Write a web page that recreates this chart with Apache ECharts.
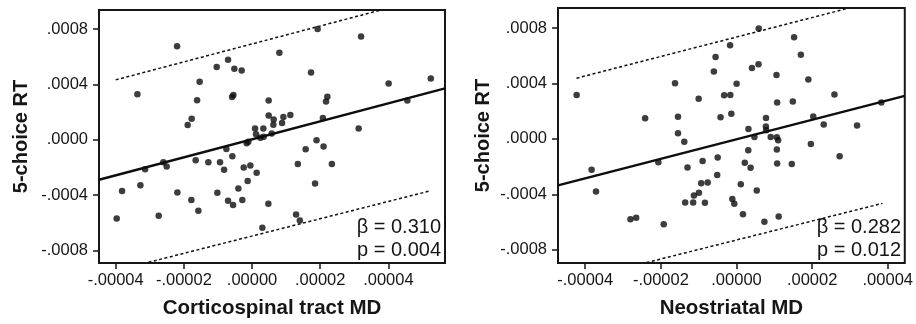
<!DOCTYPE html>
<html>
<head>
<meta charset="utf-8">
<script src="https://cdn.jsdelivr.net/npm/echarts@6/dist/echarts.min.js"></script>
<style>
  html, body { margin: 0; padding: 0; background: #fff; }
  #chart { width: 916px; height: 324px; }
</style>
</head>
<body>
<div id="chart"></div>
<script>
// tick values and their printed labels
const yTicks = [-0.0008, -0.0004, 0, 0.0004, 0.0008];
const yTickLabels = ['-.0008', '-.0004', '.0000', '.0004', '.0008'];
const xTicks = [-0.00004, -0.00002, 0, 0.00002, 0.00004];
const xTickLabels = ['-.00004', '-.00002', '.00000', '.00002', '.00004'];

// left panel: corticospinal tract MD vs 5-choice RT
const ctMD = [
  -2.20e-5, -3.364e-5, -0.704e-5, -1.038e-5, -0.519e-5, -0.305e-5, -1.537e-5, -1.613e-5, -0.587e-5, -0.548e-5,
  -1.772e-5, -1.889e-5, 0.487e-5, 0.487e-5, 0.634e-5, 0.625e-5, 0.880e-5, 0.918e-5, 1.123e-5, 0.088e-5,
  0.331e-5, 0.117e-5, 0.243e-5, 0.340e-5, 0.575e-5, -0.109e-5, -0.158e-5, -0.754e-5, -2.602e-5, -2.505e-5,
  -3.138e-5, -1.654e-5, -1.282e-5, -0.939e-5, -0.821e-5, -0.578e-5, -0.246e-5, -0.050e-5, 0.135e-5, -0.129e-5,
  -0.402e-5, -3.813e-5, -3.276e-5, -2.191e-5, -1.018e-5, -1.780e-5, -0.704e-5, -0.557e-5, -0.285e-5, 0.478e-5,
  -1.575e-5, -3.971e-5, -2.739e-5, 0.302e-5, 1.924e-5, 3.197e-5, 0.801e-5, 1.730e-5, 4.006e-5, 5.244e-5,
  2.209e-5, 2.170e-5, 4.555e-5, 2.077e-5, 3.127e-5, 1.892e-5, 1.572e-5, 2.097e-5, 1.343e-5, 2.341e-5,
  1.848e-5, 1.291e-5, 1.402e-5
];
const ctRT = [
  6.76e-4, 3.29e-4, 5.79e-4, 5.26e-4, 5.14e-4, 5.00e-4, 4.19e-4, 2.86e-4, 3.09e-4, 3.24e-4,
  1.52e-4, 1.07e-4, 2.83e-4, 1.76e-4, 1.47e-4, 1.09e-4, 1.21e-4, 1.64e-4, 1.79e-4, 0.81e-4,
  0.81e-4, 0.40e-4, 0.14e-4, 0.21e-4, 0.45e-4, -0.14e-4, -0.26e-4, -0.67e-4, -1.62e-4, -1.93e-4,
  -2.14e-4, -1.48e-4, -1.62e-4, -1.62e-4, -2.17e-4, -1.19e-4, -2.00e-4, -1.86e-4, -2.39e-4, -2.98e-4,
  -3.53e-4, -3.71e-4, -3.29e-4, -3.81e-4, -3.84e-4, -4.36e-4, -4.41e-4, -4.71e-4, -4.36e-4, -4.62e-4,
  -5.14e-4, -5.69e-4, -5.50e-4, -6.36e-4, 8.00e-4, 7.47e-4, 6.29e-4, 4.86e-4, 4.06e-4, 4.43e-4,
  3.11e-4, 2.76e-4, 2.83e-4, 1.58e-4, 0.81e-4, -0.04e-4, -0.69e-4, -0.49e-4, -1.76e-4, -1.76e-4,
  -3.16e-4, -5.41e-4, -5.84e-4
];
// fitted line and prediction band end points
const ctFit = [[-0.0000449, -0.000289], [0.0000566, 0.000371]];
const ctUpper = [[-0.0000400, 0.000433], [0.0000378, 0.000938]];
const ctLower = [[-0.0000304, -0.000886], [0.0000520, -0.000371]];
const ctStats = ['\u03b2 = 0.310', 'p = 0.004'];

// right panel: neostriatal MD vs 5-choice RT
const nsMD = [
  -4.227e-5, -1.626e-5, -1.001e-5, -2.416e-5, -1.547e-5, -1.547e-5, -1.381e-5, -0.422e-5, -0.327e-5, -0.163e-5,
  -0.137e-5, -0.598e-5, -0.553e-5, -0.169e-5, -3.831e-5, -3.715e-5, -2.066e-5, -1.296e-5, -0.896e-5, -0.498e-5,
  -0.511e-5, -0.933e-5, -0.762e-5, -1.125e-5, -0.993e-5, -1.357e-5, -1.146e-5, -0.835e-5, -0.111e-5, -0.058e-5,
  -2.804e-5, -2.653e-5, -1.924e-5, 0.588e-5, 1.523e-5, 1.702e-5, 0.408e-5, 0.582e-5, 1.057e-5, 1.900e-5,
  0.003e-5, 1.075e-5, 1.489e-5, 2.590e-5, 3.829e-5, 0.780e-5, 2.029e-5, 2.306e-5, 3.188e-5, 0.316e-5,
  0.777e-5, 0.785e-5, 0.474e-5, 0.904e-5, 1.067e-5, 1.101e-5, 1.067e-5, 0.311e-5, 1.966e-5, 2.727e-5,
  0.219e-5, 0.372e-5, 1.075e-5, 1.462e-5, 0.113e-5, 0.535e-5, 0.171e-5, 0.738e-5, 1.115e-5
];
const nsRT = [
  3.17e-4, 4.01e-4, 2.89e-4, 1.49e-4, 1.59e-4, 0.40e-4, -0.21e-4, 1.57e-4, 3.15e-4, 3.17e-4,
  1.82e-4, 4.86e-4, 5.91e-4, 6.76e-4, -2.23e-4, -3.80e-4, -1.69e-4, -2.06e-4, -1.60e-4, -1.35e-4,
  -2.61e-4, -3.20e-4, -3.15e-4, -4.09e-4, -3.89e-4, -4.58e-4, -4.58e-4, -4.60e-4, -4.34e-4, -4.68e-4,
  -5.79e-4, -5.69e-4, -6.15e-4, 7.97e-4, 7.33e-4, 6.06e-4, 5.12e-4, 5.39e-4, 4.60e-4, 4.29e-4,
  3.97e-4, 2.62e-4, 2.69e-4, 3.20e-4, 2.63e-4, 1.50e-4, 1.62e-4, 1.03e-4, 0.96e-4, 0.72e-4,
  0.89e-4, 0.63e-4, 0.13e-4, 0.13e-4, 0.11e-4, -0.09e-4, -0.76e-4, -0.82e-4, -0.36e-4, -1.25e-4,
  -1.72e-4, -2.08e-4, -1.78e-4, -1.81e-4, -3.27e-4, -3.72e-4, -5.44e-4, -5.97e-4, -5.60e-4
];
const nsFit = [[-0.0000472, -0.000335], [0.0000445, 0.000310]];
const nsUpper = [[-0.0000423, 0.000438], [0.0000298, 0.000944]];
const nsLower = [[-0.0000238, -0.000892], [0.0000386, -0.000465]];
const nsStats = ['\u03b2 = 0.282', 'p = 0.012'];

const FONT = 'Arial, "Liberation Sans", sans-serif';
const INK = '#161616';

function tickLabel(ticks, labels) {
  return (v) => {
    const i = ticks.findIndex((t) => Math.abs(t - v) < 1e-10);
    return i >= 0 ? labels[i] : '';
  };
}

function xAxisFor(gridIndex, min, max, name) {
  return {
    type: 'value', gridIndex, min, max, name,
    nameLocation: 'middle', nameGap: 35,
    nameTextStyle: { fontFamily: FONT, fontSize: 20.5, fontWeight: 'bold', color: INK },
    axisLine: { show: false, onZero: false },
    axisTick: { show: true, length: 6, customValues: xTicks, lineStyle: { color: INK, width: 1.5 } },
    axisLabel: {
      customValues: xTicks, formatter: tickLabel(xTicks, xTickLabels),
      fontFamily: FONT, fontSize: 16.5, color: INK, margin: 9,
    },
    splitLine: { show: false },
  };
}

function yAxisFor(gridIndex, min, max, gap) {
  return {
    type: 'value', gridIndex, min, max, name: '5-choice RT',
    nameLocation: 'middle', nameGap: gap, nameRotate: 90,
    nameTextStyle: { fontFamily: FONT, fontSize: 20, fontWeight: 'bold', color: INK },
    axisLine: { show: false, onZero: false },
    axisTick: { show: true, length: 6, customValues: yTicks, lineStyle: { color: INK, width: 1.5 } },
    axisLabel: {
      customValues: yTicks, formatter: tickLabel(yTicks, yTickLabels),
      fontFamily: FONT, fontSize: 16.5, color: INK, margin: 11,
    },
    splitLine: { show: false },
  };
}

function panelSeries(idx, xs, ys, fit, upper, lower) {
  return [
    {
      type: 'scatter', xAxisIndex: idx, yAxisIndex: idx,
      data: xs.map((x, i) => [x, ys[i]]),
      symbolSize: 6.5, itemStyle: { color: '#0d0d0d' },
    },
    {
      type: 'line', xAxisIndex: idx, yAxisIndex: idx, data: fit,
      showSymbol: false, lineStyle: { color: '#0d0d0d', width: 2.4 },
    },
    {
      type: 'line', xAxisIndex: idx, yAxisIndex: idx, data: upper,
      showSymbol: false, lineStyle: { color: '#111', width: 1.5, type: [3, 2.5] },
    },
    {
      type: 'line', xAxisIndex: idx, yAxisIndex: idx, data: lower,
      showSymbol: false, lineStyle: { color: '#111', width: 1.5, type: [3, 2.5] },
    },
  ];
}

function statText(lines, right) {
  return lines.map((t, i) => ({
    type: 'text',
    style: {
      text: t, x: right, y: 227.5 + i * 22.5,
      textAlign: 'right', textVerticalAlign: 'middle',
      font: '20px ' + FONT, fill: INK,
    },
  }));
}

const chart = echarts.init(document.getElementById('chart'), null, { renderer: 'canvas' });

const option = {
  animation: false,
  backgroundColor: '#fff',
  grid: [
    { left: 99, top: 10, width: 346, height: 256, show: true, borderColor: INK, borderWidth: 2 },
    { left: 558, top: 8, width: 349, height: 258, show: true, borderColor: INK, borderWidth: 2 },
  ],
  xAxis: [
    xAxisFor(0, -0.0000449, 0.0000566, 'Corticospinal tract MD'),
    xAxisFor(1, -0.0000472, 0.0000445, 'Neostriatal MD'),
  ],
  yAxis: [
    yAxisFor(0, -0.000891, 0.000938, 68),
    yAxisFor(1, -0.000895, 0.000944, 65),
  ],
  series: [
    ...panelSeries(0, ctMD, ctRT, ctFit, ctUpper, ctLower),
    ...panelSeries(1, nsMD, nsRT, nsFit, nsUpper, nsLower),
  ],
  graphic: [...statText(ctStats, 441), ...statText(nsStats, 901)],
};

chart.setOption(option);
</script>
</body>
</html>
